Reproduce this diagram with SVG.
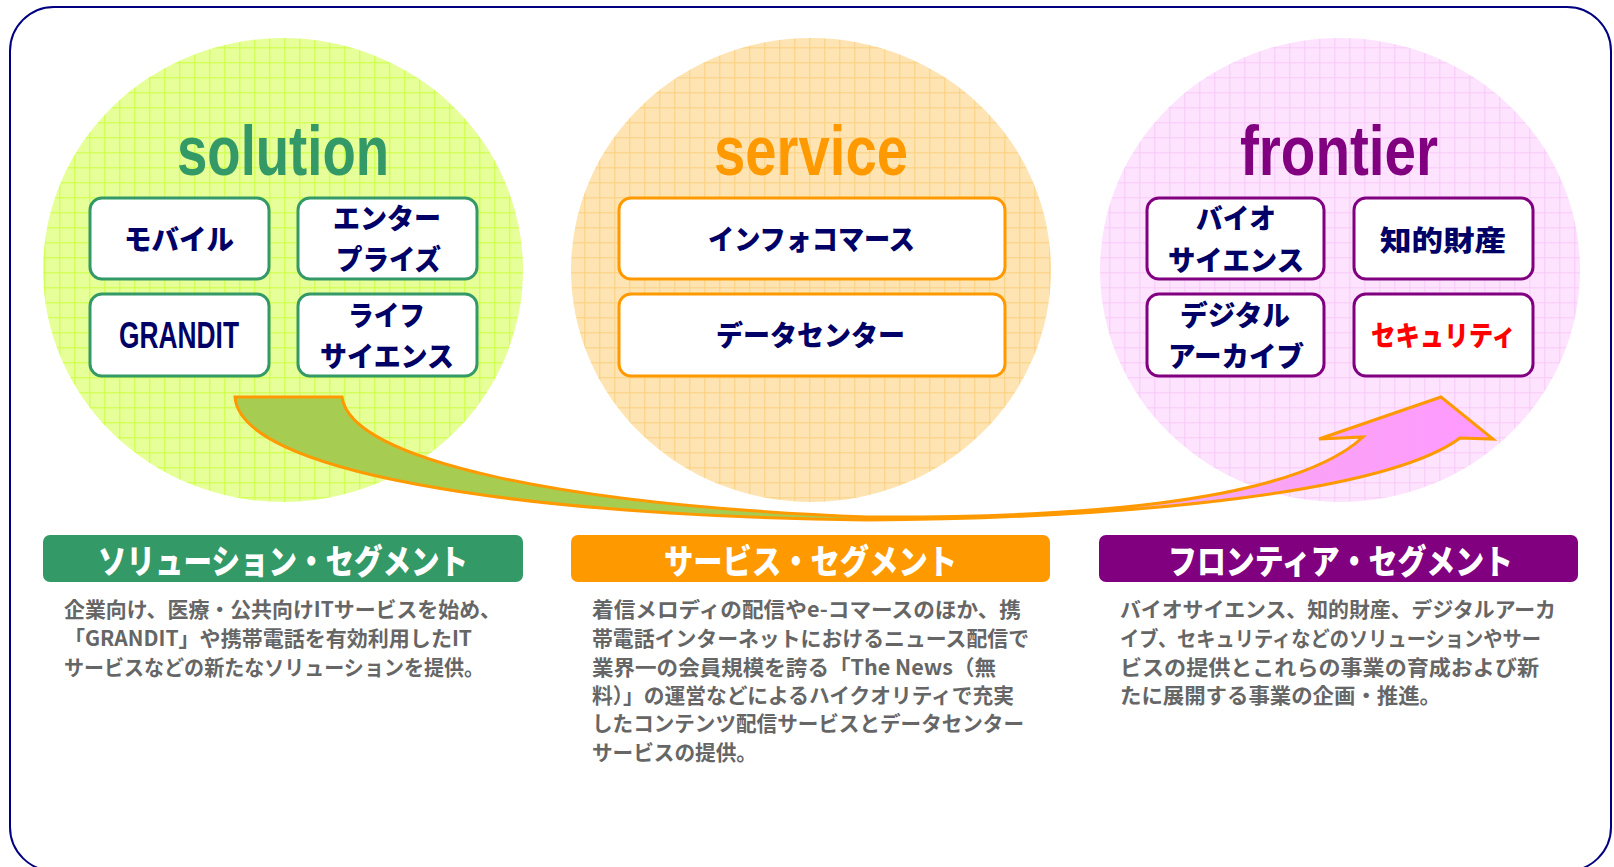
<svg xmlns="http://www.w3.org/2000/svg" width="1614" height="867" viewBox="0 0 1614 867">
<defs>
<pattern id="gridG" width="15" height="15" patternUnits="userSpaceOnUse" x="-0.7" y="2.3">
<rect width="15" height="15" fill="#E6FF99"/>
<path d="M0,0.5H15M0.5,0V15" stroke="#CCFF40" stroke-width="1" fill="none"/>
</pattern>
<pattern id="gridO" width="15" height="15" patternUnits="userSpaceOnUse" x="-0.7" y="2.3">
<rect width="15" height="15" fill="#FEE4B2"/>
<path d="M0,0.5H15M0.5,0V15" stroke="#FBD07E" stroke-width="1" fill="none"/>
</pattern>
<pattern id="gridP" width="15" height="15" patternUnits="userSpaceOnUse" x="-0.7" y="2.3">
<rect width="15" height="15" fill="#FDE3FD"/>
<path d="M0,0.5H15M0.5,0V15" stroke="#F8C9F8" stroke-width="1" fill="none"/>
</pattern>
<linearGradient id="arrowGrad" gradientUnits="userSpaceOnUse" x1="235" y1="0" x2="1493" y2="0">
<stop offset="0" stop-color="#A6CC52"/>
<stop offset="0.48" stop-color="#A6CC52"/>
<stop offset="0.52" stop-color="#EFB7E3"/>
<stop offset="1" stop-color="#FF99FF"/>
</linearGradient>
</defs>
<style>
.title{font-family:"Liberation Sans",Arial,sans-serif;font-weight:bold;font-size:70px}
.jp{font-family:"Noto Sans CJK JP","Noto Sans CJK SC",sans-serif;font-weight:900;font-size:28px;fill:#000066}
.lat{font-family:"Liberation Sans",Arial,sans-serif;font-weight:bold;font-size:36px;fill:#000066}
.box{fill:#FFFFFF;stroke-width:3}
.hdr{font-family:"Noto Sans CJK JP","Noto Sans CJK SC",sans-serif;font-weight:900;font-size:34px;fill:#FFFFFF}
.body{font-family:"Noto Sans CJK JP","Noto Sans CJK SC",sans-serif;font-weight:bold;font-size:21px;fill:#666666}
</style>
<rect id="frame" x="10" y="7" width="1601" height="864" rx="44" ry="44" fill="#FFFFFF" stroke="#000080" stroke-width="2"/>

<g id="solution">
<ellipse cx="283" cy="270" rx="240" ry="232" fill="url(#gridG)"/>
<text class="title" x="177" y="175" textLength="212" lengthAdjust="spacingAndGlyphs" fill="#339966">solution</text>
</g>
<g id="service">
<ellipse cx="811" cy="270" rx="240" ry="232" fill="url(#gridO)"/>
<text class="title" x="714" y="175" textLength="194" lengthAdjust="spacingAndGlyphs" fill="#FF9900">service</text>
</g>
<g id="frontier">
<ellipse cx="1340" cy="270" rx="240" ry="232" fill="url(#gridP)"/>
<text class="title" x="1240" y="175" textLength="198" lengthAdjust="spacingAndGlyphs" fill="#800080">frontier</text>
</g>

<g id="box-mobile">
<rect class="box" x="90" y="198" width="179" height="81" rx="12" stroke="#339966"/>
<text class="jp" x="124" y="250" textLength="110" lengthAdjust="spacingAndGlyphs">モバイル</text>
</g>
<g id="box-enterprise">
<rect class="box" x="298" y="198" width="179" height="81" rx="12" stroke="#339966"/>
<text class="jp" x="333" y="229" textLength="108" lengthAdjust="spacingAndGlyphs">エンター</text>
<text class="jp" x="336" y="270" textLength="105" lengthAdjust="spacingAndGlyphs">プライズ</text>
</g>
<g id="box-grandit">
<rect class="box" x="90" y="294" width="179" height="82" rx="12" stroke="#339966"/>
<text class="lat" x="119" y="348" textLength="120" lengthAdjust="spacingAndGlyphs">GRANDIT</text>
</g>
<g id="box-lifescience">
<rect class="box" x="298" y="294" width="179" height="82" rx="12" stroke="#339966"/>
<text class="jp" x="348" y="326" textLength="77" lengthAdjust="spacingAndGlyphs">ライフ</text>
<text class="jp" x="320" y="367" textLength="134" lengthAdjust="spacingAndGlyphs">サイエンス</text>
</g>

<g id="box-infocommerce">
<rect class="box" x="619" y="198" width="386" height="81" rx="12" stroke="#FF9900"/>
<text class="jp" x="708" y="250" textLength="207" lengthAdjust="spacingAndGlyphs">インフォコマース</text>
</g>
<g id="box-datacenter">
<rect class="box" x="619" y="294" width="386" height="82" rx="12" stroke="#FF9900"/>
<text class="jp" x="716" y="346" textLength="189" lengthAdjust="spacingAndGlyphs">データセンター</text>
</g>

<g id="box-bioscience">
<rect class="box" x="1147" y="198" width="177" height="81" rx="12" stroke="#800080"/>
<text class="jp" x="1196" y="229" textLength="80" lengthAdjust="spacingAndGlyphs">バイオ</text>
<text class="jp" x="1168" y="271" textLength="136" lengthAdjust="spacingAndGlyphs">サイエンス</text>
</g>
<g id="box-ip">
<rect class="box" x="1354" y="198" width="179" height="81" rx="12" stroke="#800080"/>
<text class="jp" x="1380" y="251" textLength="126" lengthAdjust="spacingAndGlyphs">知的財産</text>
</g>
<g id="box-digitalarchive">
<rect class="box" x="1147" y="294" width="177" height="82" rx="12" stroke="#800080"/>
<text class="jp" x="1180" y="326" textLength="110" lengthAdjust="spacingAndGlyphs">デジタル</text>
<text class="jp" x="1168" y="367" textLength="136" lengthAdjust="spacingAndGlyphs">アーカイブ</text>
</g>
<g id="box-security">
<rect class="box" x="1354" y="294" width="179" height="82" rx="12" stroke="#800080"/>
<text class="jp" x="1371" y="346" textLength="145" lengthAdjust="spacingAndGlyphs" style="fill:#FF0000">セキュリティ</text>
</g>

<g id="connectors">
<path d="M235,397 L342,397 C350,460 560,505 867,517 C1060,518 1290,505 1363,437 L1319,439 L1441,397 L1493,439 L1460,438 C1390,490 1150,518 867,520 C500,515 240,470 235,397 Z" fill="url(#arrowGrad)" stroke="#FF9900" stroke-width="3" stroke-linejoin="miter"/>
</g>

<g id="seg-solution">
<rect x="43" y="535" width="480" height="47" rx="7" fill="#339966"/>
<text class="hdr" x="98" y="574" textLength="370" lengthAdjust="spacingAndGlyphs">ソリューション・セグメント</text>
<text class="body" x="64" y="617" textLength="437" lengthAdjust="spacingAndGlyphs">企業向け、医療・公共向けITサービスを始め、</text>
<text class="body" x="64" y="646" textLength="408" lengthAdjust="spacingAndGlyphs">「GRANDIT」や携帯電話を有効利用したIT</text>
<text class="body" x="64" y="675" textLength="420" lengthAdjust="spacingAndGlyphs">サービスなどの新たなソリューションを提供。</text>
</g>
<g id="seg-service">
<rect x="571" y="535" width="479" height="47" rx="7" fill="#FF9900"/>
<text class="hdr" x="664" y="574" textLength="293" lengthAdjust="spacingAndGlyphs">サービス・セグメント</text>
<text class="body" x="592" y="617" textLength="429" lengthAdjust="spacingAndGlyphs">着信メロディの配信やe-コマースのほか、携</text>
<text class="body" x="592" y="646" textLength="437" lengthAdjust="spacingAndGlyphs">帯電話インターネットにおけるニュース配信で</text>
<text class="body" x="592" y="675" textLength="404" lengthAdjust="spacingAndGlyphs">業界一の会員規模を誇る「The News（無</text>
<text class="body" x="592" y="703" textLength="422" lengthAdjust="spacingAndGlyphs">料）」の運営などによるハイクオリティで充実</text>
<text class="body" x="592" y="731" textLength="432" lengthAdjust="spacingAndGlyphs">したコンテンツ配信サービスとデータセンター</text>
<text class="body" x="592" y="760" textLength="165" lengthAdjust="spacingAndGlyphs">サービスの提供。</text>
</g>
<g id="seg-frontier">
<rect x="1099" y="535" width="479" height="47" rx="7" fill="#800080"/>
<text class="hdr" x="1168" y="574" textLength="345" lengthAdjust="spacingAndGlyphs">フロンティア・セグメント</text>
<text class="body" x="1120" y="617" textLength="436" lengthAdjust="spacingAndGlyphs">バイオサイエンス、知的財産、デジタルアーカ</text>
<text class="body" x="1120" y="646" textLength="421" lengthAdjust="spacingAndGlyphs">イブ、セキュリティなどのソリューションやサー</text>
<text class="body" x="1120" y="675" textLength="419" lengthAdjust="spacingAndGlyphs">ビスの提供とこれらの事業の育成および新</text>
<text class="body" x="1120" y="703" textLength="321" lengthAdjust="spacingAndGlyphs">たに展開する事業の企画・推進。</text>
</g>
</svg>
